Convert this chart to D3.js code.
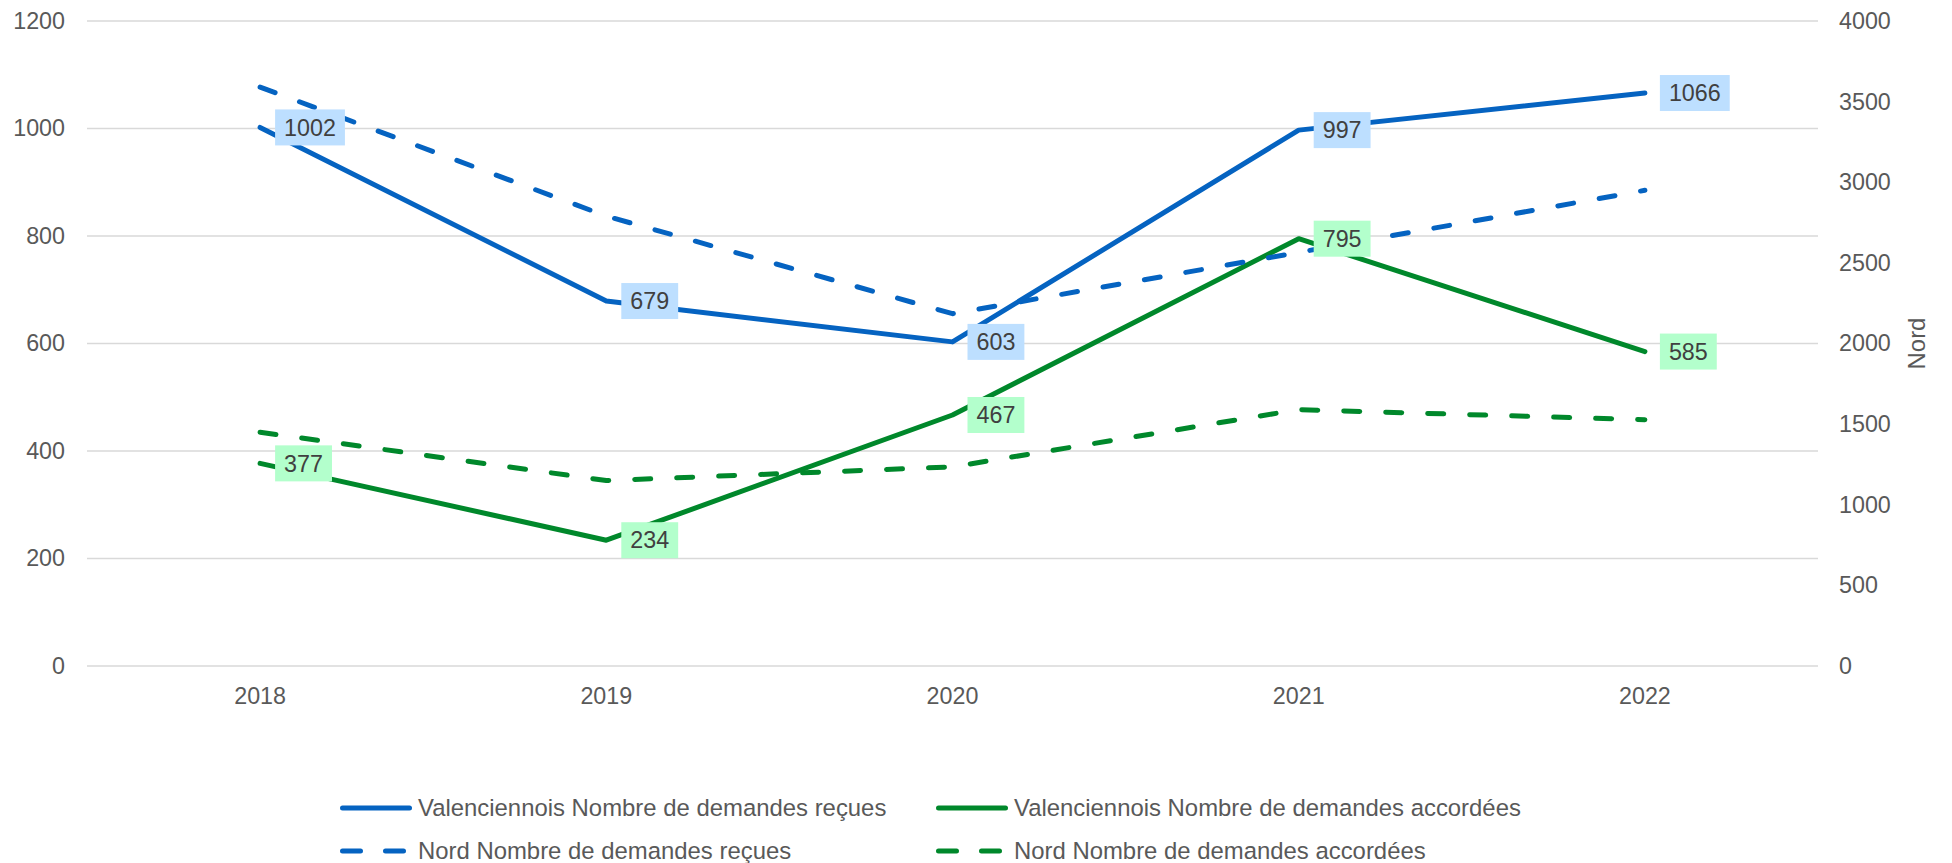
<!DOCTYPE html>
<html>
<head>
<meta charset="utf-8">
<script src="https://cdn.jsdelivr.net/npm/d3@7"></script>
<style>
  html, body { margin: 0; padding: 0; background: #ffffff; }
  svg { display: block; font-family: "Liberation Sans", Arial, sans-serif; }
</style>
</head>
<body>
<svg id="chart" width="1952" height="863"></svg>
<script>
const years = ["2018", "2019", "2020", "2021", "2022"];
const valRecues = [1002, 679, 603, 997, 1066];
const valAccordees = [377, 234, 467, 795, 585];
const nordRecues = [3590, 2790, 2185, 2565, 2950];
const nordAccordees = [1450, 1150, 1235, 1590, 1527];
const leftTicks = [0, 200, 400, 600, 800, 1000, 1200];
const rightTicks = [0, 500, 1000, 1500, 2000, 2500, 3000, 3500, 4000];
const seriesNames = [
  "Valenciennois Nombre de demandes reçues",
  "Valenciennois Nombre de demandes accordées",
  "Nord Nombre de demandes reçues",
  "Nord Nombre de demandes accordées"
];
const rightAxisTitle = "Nord";

(function () {
const BLUE = "#0563C1", GREEN = "#00882B";
const BLUE_BOX = "#BDDFFF", GREEN_BOX = "#B3FFCC";
const FS = 23.3;
const LFS = 23.9;

const svg = d3.select("#chart");
const pL = 87, pR = 1818, pT = 21, pB = 666;

const x = d3.scaleBand().domain(years).range([pL, pR]).padding(0);
const cx = d => x(d) + x.bandwidth() / 2;
const yL = d3.scaleLinear().domain([0, 1200]).range([pB, pT]);
const yR = d3.scaleLinear().domain([0, 4000]).range([pB, pT]);

// gridlines
svg.append("g").selectAll("line").data(leftTicks).join("line")
  .attr("x1", pL).attr("x2", pR)
  .attr("y1", d => yL(d)).attr("y2", d => yL(d))
  .attr("stroke", "#D9D9D9").attr("stroke-width", 1.4);

// left axis
const axL = svg.append("g").attr("transform", `translate(${pL},0)`)
  .call(d3.axisLeft(yL).tickValues(leftTicks).tickSize(0).tickPadding(22).tickFormat(d3.format("d")));
axL.select(".domain").remove();
axL.selectAll("text").attr("font-size", FS).attr("fill", "#595959")
  .attr("font-family", "Liberation Sans, Arial, sans-serif");

// right axis
const axR = svg.append("g").attr("transform", `translate(${pR},0)`)
  .call(d3.axisRight(yR).tickValues(rightTicks).tickSize(0).tickPadding(21).tickFormat(d3.format("d")));
axR.select(".domain").remove();
axR.selectAll("text").attr("font-size", FS).attr("fill", "#595959")
  .attr("font-family", "Liberation Sans, Arial, sans-serif");

// bottom axis
const axB = svg.append("g").attr("transform", `translate(0,${pB})`)
  .call(d3.axisBottom(x).tickSize(0).tickPadding(21));
axB.select(".domain").remove();
axB.selectAll("text").attr("font-size", FS).attr("fill", "#595959")
  .attr("font-family", "Liberation Sans, Arial, sans-serif");

// right axis title
svg.append("text")
  .attr("transform", `translate(1925,${(pT + pB) / 2}) rotate(-90)`)
  .attr("text-anchor", "middle")
  .attr("font-size", LFS).attr("fill", "#595959")
  .text(rightAxisTitle);

// lines
const mk = (scale) => d3.line().x((d, i) => cx(years[i])).y(d => scale(d));
const DASH = "16 26";
const series = [
  { data: valRecues, scale: yL, color: BLUE, dash: null },
  { data: valAccordees, scale: yL, color: GREEN, dash: null },
  { data: nordRecues, scale: yR, color: BLUE, dash: DASH },
  { data: nordAccordees, scale: yR, color: GREEN, dash: DASH }
];
series.forEach(s => {
  svg.append("path").datum(s.data)
    .attr("d", mk(s.scale))
    .attr("fill", "none")
    .attr("stroke", s.color)
    .attr("stroke-width", 5)
    .attr("stroke-linecap", "round")
    .attr("stroke-linejoin", "round")
    .attr("stroke-dasharray", s.dash);
});

// data labels
function labels(data, box) {
  const g = svg.append("g");
  data.forEach((v, i) => {
    const px = cx(years[i]), py = yL(v);
    const lg = g.append("g");
    const rect = lg.append("rect").attr("fill", box);
    const t = lg.append("text")
      .attr("x", px + 15 + 9).attr("y", py)
      .attr("dy", "0.35em")
      .attr("font-size", FS).attr("fill", "#404040")
      .text(v);
    const w = t.node().getComputedTextLength();
    rect.attr("x", px + 15).attr("y", py - 18).attr("width", w + 18).attr("height", 36);
  });
}
labels(valRecues, BLUE_BOX);
labels(valAccordees, GREEN_BOX);

// legend
const legend = [
  { name: seriesNames[0], color: BLUE, dash: null, lx: 340, ly: 808 },
  { name: seriesNames[1], color: GREEN, dash: null, lx: 936, ly: 808 },
  { name: seriesNames[2], color: BLUE, dash: "18 25", lx: 340, ly: 851 },
  { name: seriesNames[3], color: GREEN, dash: "18 25", lx: 936, ly: 851 }
];
const lg = svg.append("g");
legend.forEach(l => {
  lg.append("line")
    .attr("x1", l.lx + 2.5).attr("x2", l.lx + 69.5)
    .attr("y1", l.ly).attr("y2", l.ly)
    .attr("stroke", l.color).attr("stroke-width", 5)
    .attr("stroke-linecap", "round")
    .attr("stroke-dasharray", l.dash);
  lg.append("text")
    .attr("x", l.lx + 78).attr("y", l.ly).attr("dy", "0.35em")
    .attr("font-size", LFS).attr("fill", "#595959")
    .text(l.name);
});
})();
</script>
</body>
</html>
